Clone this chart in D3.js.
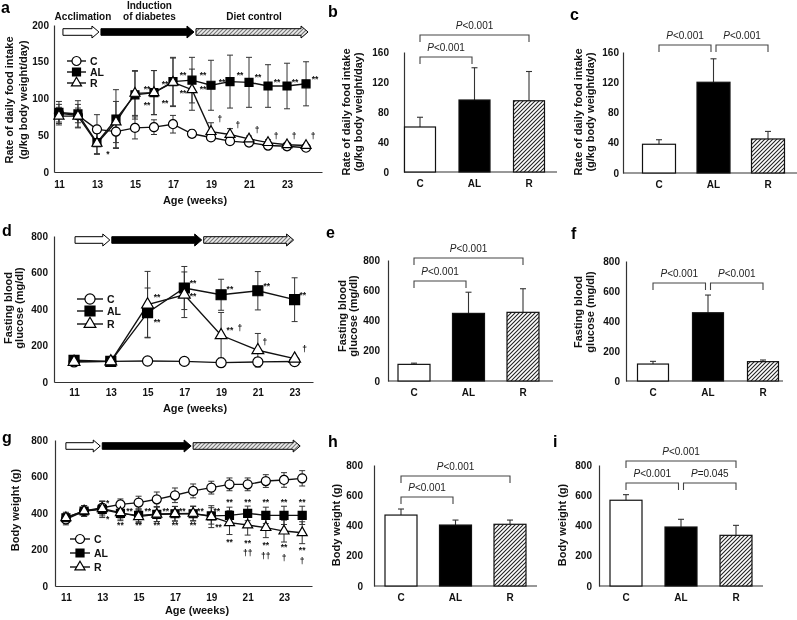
<!DOCTYPE html>
<meta charset="utf-8">
<style>
body { margin: 0; background: #fff; }
svg { font-family: "Liberation Sans", Arial, sans-serif; will-change: transform; }
.axis path { stroke: #333; stroke-width: 1.2px; }
.axis text { font-size: 10px; font-weight: bold; fill: #111; }
.title { font-size: 11px; font-weight: bold; fill: #111; }
.legend { font-size: 10.5px; font-weight: bold; fill: #111; }
.letter { font-size: 16px; font-weight: bold; fill: #000; }
.ann { font-size: 8.5px; font-weight: bold; fill: #111; }
.pval { font-size: 10px; fill: #222; }
.phase { font-size: 10px; font-weight: bold; fill: #111; }
</style>
<svg width="797" height="620"></svg>
<script src="https://d3js.org/d3.v7.min.js"></script>
<script>

var groups = ["C", "AL", "R"];

// phases of the protocol (weeks)
var phaseWeeks = [11, 13, 18, 24];
var phaseWeeksD = [11, 13, 18, 23];
var phaseNames = [["Acclimation"], ["Induction", "of diabetes"], ["Diet control"]];

// a: rate of daily food intake over time
var weeksA   = [11, 12, 13, 14, 15, 16, 17, 18, 19, 20, 21, 22, 23, 24];
var foodC    = [80, 77, 58, 55, 60, 61, 65, 52, 47, 42, 40, 36, 35, 33];
var foodCsd  = [12, 10, 20, 22, 15, 10, 12, 5, 3, 3, 3, 3, 3, 3];
var foodAL   = [81, 79, 40, 72, 105, 108, 123, 125, 118, 123, 122, 117, 117, 120];
var foodALsd = [15, 18, 16, 40, 33, 30, 33, 31, 34, 36, 34, 29, 31, 30];
var foodR    = [76, 76, 39, 68, 107, 108, 122, 112, 55, 51, 45, 40, 37, 36];
var foodRsd  = [12, 16, 14, 28, 30, 30, 33, 28, 12, 8, 4, 4, 3, 3];
var foodMarks = [
  [13.58, 27, "*"],
  [15.63, 116, "**"], [15.63, 94, "**"], [16.58, 122, "**"], [16.58, 97, "**"],
  [17.53, 135, "**"], [17.53, 110, "**"], [18.58, 135, "**"], [18.58, 116, "**"],
  [19.58, 125, "**"], [20.53, 135, "**"], [21.47, 132, "**"], [22.47, 125, "**"],
  [23.42, 125, "**"], [24.47, 129, "**"],
  [19.47, 71, "†"], [20.42, 64, "†"], [21.42, 56, "†"], [22.42, 49, "†"],
  [23.37, 48, "†"], [24.37, 48, "†"]
];

// b, c: mean food intake (induction period / diet control period)
var foodInd   = [60, 96, 95];
var foodIndSd = [13, 43, 39];
var foodDiet   = [38, 120, 45];
var foodDietSd = [6, 31, 10];

// d: fasting blood glucose over time
var weeksD   = [11, 13, 15, 17, 19, 21, 23];
var gluC     = [110, 113, 115, 113, 106, 110, 112];
var gluCsd   = [8, 8, 8, 8, 6, 8, 8];
var gluAL    = [119, 113, 380, 515, 478, 500, 451];
var gluALsd  = [10, 10, 135, 118, 85, 105, 120];
var gluR     = [110, 113, 424, 478, 256, 174, 128];
var gluRsd   = [8, 8, 182, 125, 125, 92, 10];
var gluMarks = [
  [15.51, 477, "**"], [15.51, 340, "**"], [17.47, 553, "**"], [17.47, 482, "**"],
  [19.48, 520, "**"], [19.48, 296, "**"], [20.02, 296, "†"],
  [21.49, 537, "**"], [21.38, 219, "†"], [23.45, 488, "**"], [23.55, 181, "†"]
];

// e, f: fasting blood glucose
var gluInd   = [110, 447, 454];
var gluIndSd = [8, 140, 156];
var gluDiet   = [113, 455, 129];
var gluDietSd = [18, 118, 11];

// g: body weight over time
var weeksG  = [11, 12, 13, 14, 15, 16, 17, 18, 19, 20, 21, 22, 23, 24];
var bwC     = [365, 411, 429, 447, 457, 475, 497, 521, 539, 557, 557, 575, 581, 590];
var bwCsd   = [30, 30, 35, 30, 35, 40, 40, 38, 35, 35, 35, 35, 40, 42];
var bwAL    = [374, 411, 420, 398, 387, 393, 396, 396, 384, 387, 398, 387, 387, 387];
var bwALsd  = [30, 30, 45, 40, 35, 40, 40, 40, 45, 45, 40, 45, 50, 50];
var bwR     = [374, 411, 424, 402, 380, 393, 396, 398, 380, 347, 334, 320, 301, 292];
var bwRsd   = [25, 30, 40, 35, 35, 40, 40, 40, 60, 65, 55, 55, 60, 60];
var bwMarks = [
  [13.3, 466, "*"], [13.3, 378, "*"],
  [14.5, 425, "**"], [15.5, 425, "**"], [16.5, 425, "**"], [17.4, 425, "**"], [18.4, 425, "**"], [19.3, 425, "**"],
  [14, 345, "**"], [15, 345, "**"], [16, 345, "**"], [17, 345, "**"], [18, 345, "**"], [19.4, 334, "**"],
  [20, 474, "**"], [21, 474, "**"], [22, 474, "**"], [23, 474, "**"], [24, 474, "**"],
  [20, 252, "**"], [21, 248, "**"], [22, 234, "**"], [23, 224, "**"], [24, 208, "**"],
  [21, 178, "††"], [22, 160, "††"], [23, 152, "†"], [24, 136, "†"]
];

// h, i: body weight
var bwInd   = [469, 403, 408];
var bwIndSd = [40, 33, 28];
var bwDiet   = [567, 390, 335];
var bwDietSd = [37, 51, 66];

// significance brackets
var pairs2 = [["C", "AL", "P<0.001"], ["C", "R", "P<0.001"]];
var pairsAdj = [["C", "AL", "P<0.001"], ["AL", "R", "P<0.001"]];
var pairs3 = [["C", "AL", "P<0.001"], ["AL", "R", "P=0.045"], ["C", "R", "P<0.001"]];

var svg = d3.select("svg");
svg.append("rect").attr("width", 797).attr("height", 620).attr("fill", "#fff");

var defs = svg.append("defs");
var hatch = defs.append("pattern").attr("id", "hatch")
    .attr("patternUnits", "userSpaceOnUse").attr("width", 4).attr("height", 4);
hatch.append("rect").attr("width", 4).attr("height", 4).attr("fill", "#fff");
hatch.append("path").attr("d", "M-1,1L1,-1M0,4L4,0M3,5L5,3")
    .attr("stroke", "#222").attr("stroke-width", 1.1);

var hatchArrow = defs.append("pattern").attr("id", "hatchArrow")
    .attr("patternUnits", "userSpaceOnUse").attr("width", 4).attr("height", 4);
hatchArrow.append("rect").attr("width", 4).attr("height", 4).attr("fill", "#eee");
hatchArrow.append("path").attr("d", "M-1,1L1,-1M0,4L4,0M3,5L5,3")
    .attr("stroke", "#777").attr("stroke-width", 1.2);

var symType = { C: d3.symbolCircle, AL: d3.symbolSquare, R: d3.symbolTriangle };
var symFill = { C: "#fff", AL: "#000", R: "#fff" };
var barFill = ["#fff", "#000", "url(#hatch)"];
var arrowFill = ["#fff", "#000", "url(#hatchArrow)"];

function marker(g, key, cx, cy, sizes) {
  g.append("path")
      .attr("d", d3.symbol().type(symType[key]).size(sizes[key])())
      .attr("transform", "translate(" + cx + "," + cy + ")")
      .attr("fill", symFill[key])
      .attr("stroke", "#000")
      .attr("stroke-width", 1.2);
}

function arrowPath(x0, x1, cy) {
  var h = 3.3, H = 6, L = 7;
  return "M" + x0 + "," + (cy - h) + "L" + (x1 - L) + "," + (cy - h) + "L" + (x1 - L) + "," + (cy - H) +
      "L" + x1 + "," + cy + "L" + (x1 - L) + "," + (cy + H) + "L" + (x1 - L) + "," + (cy + h) +
      "L" + x0 + "," + (cy + h) + "Z";
}

function vLabel(g, lines, xs, cy) {
  lines.forEach(function(t, i) {
    g.append("text").attr("class", "title")
        .attr("transform", "translate(" + xs[i] + "," + cy + ") rotate(-90)")
        .attr("text-anchor", "middle").attr("dy", "0.35em")
        .text(t);
  });
}

function letter(t, x, y) {
  svg.append("text").attr("class", "letter").attr("x", x).attr("y", y).text(t);
}

function linePanel(p) {
  var g = svg.append("g");
  var x = d3.scaleLinear().domain(p.xDomain).range(p.xRange);
  var y = d3.scaleLinear().domain(p.yDomain).range(p.yRange);

  g.append("g").attr("class", "axis")
      .attr("transform", "translate(0," + p.yRange[0] + ")")
      .call(d3.axisBottom(x).tickValues(p.xTicks).tickSize(0).tickPadding(p.xPad));
  g.append("g").attr("class", "axis")
      .attr("transform", "translate(" + p.xRange[0] + ",0)")
      .call(d3.axisLeft(y).tickValues(p.yTicks).tickSize(0).tickPadding(p.yPad));

  // protocol arrows
  for (var k = 0; k < 3; k++) {
    g.append("path")
        .attr("d", arrowPath(x(p.phases[k]) + p.arrowShift + 1, x(p.phases[k + 1]) + p.arrowShift - 1, p.arrowY))
        .attr("fill", arrowFill[k]).attr("stroke", "#000").attr("stroke-width", 1);
    if (p.phaseLabels) {
      var mid = (x(p.phases[k]) + x(p.phases[k + 1])) / 2 + p.arrowShift + 2;
      phaseNames[k].forEach(function(t, j, arr) {
        g.append("text").attr("class", "phase").attr("text-anchor", "middle")
            .attr("x", mid).attr("y", 19.5 - (arr.length - 1 - j) * 10.5).text(t);
      });
    }
  }

  // error bars
  var eb = g.append("g").attr("stroke", "#333").attr("stroke-width", 1);
  p.series.forEach(function(s) {
    s.values.forEach(function(v, i) {
      var cx = x(p.weeks[i]), lo = y(v - s.sd[i]), hi = y(v + s.sd[i]);
      eb.append("line").attr("x1", cx).attr("x2", cx).attr("y1", lo).attr("y2", hi);
      eb.append("line").attr("x1", cx - 3).attr("x2", cx + 3).attr("y1", hi).attr("y2", hi);
      eb.append("line").attr("x1", cx - 3).attr("x2", cx + 3).attr("y1", lo).attr("y2", lo);
    });
  });

  var line = d3.line()
      .x(function(d, i) { return x(p.weeks[i]); })
      .y(function(d) { return y(d); });

  p.series.forEach(function(s) {
    g.append("path").datum(s.values)
        .attr("fill", "none").attr("stroke", "#111").attr("stroke-width", 1.4)
        .attr("d", line);
  });
  p.series.forEach(function(s) {
    s.values.forEach(function(v, i) {
      marker(g, s.key, x(p.weeks[i]), y(v), p.sizes);
    });
  });

  // significance marks
  p.marks.forEach(function(m) {
    g.append("text").attr("class", "ann")
        .attr("x", x(m[0])).attr("y", y(m[1]))
        .attr("text-anchor", "middle")
        .attr("dy", m[2].indexOf("*") >= 0 ? "0.6em" : "0.3em")
        .text(m[2]);
  });

  // legend
  ["C", "AL", "R"].forEach(function(key, i) {
    var ly = p.legendY[i];
    g.append("line").attr("x1", p.legendX[0]).attr("x2", p.legendX[1])
        .attr("y1", ly).attr("y2", ly).attr("stroke", "#111").attr("stroke-width", 1.4);
    marker(g, key, (p.legendX[0] + p.legendX[1]) / 2, ly, p.sizes);
    g.append("text").attr("class", "legend")
        .attr("x", p.legendX[1] + 4).attr("y", ly).attr("dy", "0.35em").text(key);
  });

  g.append("text").attr("class", "title").attr("text-anchor", "middle")
      .attr("x", p.xTitle[0]).attr("y", p.xTitle[1]).text("Age (weeks)");
  vLabel(g, p.yTitle, p.yTitleX, p.yTitleY);
}

function barPanel(p) {
  var g = svg.append("g");
  var w = p.barW, step = p.step;
  var x = d3.scaleBand().domain(groups)
      .range([p.c0 - w / 2, p.c0 - w / 2 + 2 * step + w])
      .paddingInner(1 - w / step).paddingOuter(0);
  var y = d3.scaleLinear().domain(p.yDomain).range(p.yRange);
  var base = p.yRange[0];

  var xa = g.append("g").attr("class", "axis")
      .attr("transform", "translate(0," + base + ")")
      .call(d3.axisBottom(x).tickSize(0).tickPadding(8));
  xa.select(".domain").attr("d", "M" + p.axisX + ",0H" + p.baseEnd);
  g.append("g").attr("class", "axis")
      .attr("transform", "translate(" + p.axisX + ",0)")
      .call(d3.axisLeft(y).tickValues(p.yTicks).tickSize(0).tickPadding(p.yPad));

  // upper error bars
  groups.forEach(function(k, i) {
    var cx = x(k) + w / 2, top = y(p.values[i] + p.sd[i]);
    g.append("line").attr("x1", cx).attr("x2", cx)
        .attr("y1", y(p.values[i])).attr("y2", top).attr("stroke", "#333").attr("stroke-width", 1.1);
    g.append("line").attr("x1", cx - 3).attr("x2", cx + 3)
        .attr("y1", top).attr("y2", top).attr("stroke", "#333").attr("stroke-width", 1.1);
  });

  g.selectAll(".bar").data(groups).enter().append("rect")
      .attr("x", function(d) { return x(d); })
      .attr("width", x.bandwidth())
      .attr("y", function(d, i) { return y(p.values[i]); })
      .attr("height", function(d, i) { return base - y(p.values[i]); })
      .attr("fill", function(d, i) { return barFill[i]; })
      .attr("stroke", "#111").attr("stroke-width", 1.2);

  p.pairs.forEach(function(pr, k) {
    var yb = p.bracketY[k];
    var xa0 = x(pr[0]) + w / 2 + (pr[0] === "AL" ? 2.5 : 0);
    var xb0 = x(pr[1]) + w / 2 - (pr[1] === "AL" ? 2.5 : 0);
    g.append("path")
        .attr("d", "M" + xa0 + "," + (yb + 7) + "V" + yb + "H" + xb0 + "V" + (yb + 7))
        .attr("fill", "none").attr("stroke", "#444").attr("stroke-width", 1.1);
    var t = g.append("text").attr("class", "pval").attr("text-anchor", "middle")
        .attr("x", (xa0 + xb0) / 2).attr("y", yb - 6);
    t.append("tspan").attr("font-style", "italic").text(pr[2].charAt(0));
    t.append("tspan").text(pr[2].slice(1));
  });

  vLabel(g, p.yTitle, p.yTitleX, p.yTitleY);
}

var foodTitle = ["Rate of daily food intake", "(g/kg body weight/day)"];
var gluTitle = ["Fasting blood", "glucose (mg/dl)"];
var bwTitle = ["Body weight (g)"];
var smallSizes = { C: 64, AL: 64, R: 44 };
var bigSizes = { C: 80, AL: 100, R: 60 };

// a
linePanel({
  xDomain: [10.74, 24.84], xRange: [54, 322], yDomain: [0, 200], yRange: [172, 25],
  xTicks: [11, 13, 15, 17, 19, 21, 23], yTicks: [0, 50, 100, 150, 200], xPad: 9, yPad: 5,
  phases: phaseWeeks, arrowY: 32, arrowShift: 3, phaseLabels: true,
  weeks: weeksA,
  series: [{ key: "C", values: foodC, sd: foodCsd }, { key: "AL", values: foodAL, sd: foodALsd }, { key: "R", values: foodR, sd: foodRsd }],
  marks: foodMarks, sizes: smallSizes,
  legendX: [67, 86], legendY: [61, 72, 83],
  xTitle: [195, 204], yTitle: foodTitle, yTitleX: [9, 23], yTitleY: 100
});

// d
linePanel({
  xDomain: [9.91, 24.0], xRange: [54, 313], yDomain: [0, 800], yRange: [382, 236],
  xTicks: [11, 13, 15, 17, 19, 21, 23], yTicks: [0, 200, 400, 600, 800], xPad: 7, yPad: 6,
  phases: phaseWeeksD, arrowY: 240, arrowShift: 0, phaseLabels: false,
  weeks: weeksD,
  series: [{ key: "C", values: gluC, sd: gluCsd }, { key: "AL", values: gluAL, sd: gluALsd }, { key: "R", values: gluR, sd: gluRsd }],
  marks: gluMarks, sizes: bigSizes,
  legendX: [77, 103], legendY: [299, 311, 324],
  xTitle: [195, 412], yTitle: gluTitle, yTitleX: [8, 19], yTitleY: 308
});

// g
linePanel({
  xDomain: [10.4, 24.54], xRange: [55, 312], yDomain: [0, 800], yRange: [586, 440],
  xTicks: [11, 13, 15, 17, 19, 21, 23], yTicks: [0, 200, 400, 600, 800], xPad: 8, yPad: 7,
  phases: phaseWeeks, arrowY: 446, arrowShift: -1, phaseLabels: false,
  weeks: weeksG,
  series: [{ key: "C", values: bwC, sd: bwCsd }, { key: "AL", values: bwAL, sd: bwALsd }, { key: "R", values: bwR, sd: bwRsd }],
  marks: bwMarks, sizes: smallSizes,
  legendX: [70, 90], legendY: [539, 553, 567],
  xTitle: [197, 614], yTitle: bwTitle, yTitleX: [15], yTitleY: 510
});

// b
barPanel({
  axisX: 404, baseEnd: 557, c0: 420, step: 54.5, barW: 31,
  yDomain: [0, 160], yRange: [172, 52], yTicks: [0, 40, 80, 120, 160], yPad: 15,
  values: foodInd, sd: foodIndSd, pairs: pairs2, bracketY: [57, 35],
  yTitle: foodTitle, yTitleX: [346, 358], yTitleY: 112
});

// c
barPanel({
  axisX: 623, baseEnd: 797, c0: 659, step: 54.5, barW: 33,
  yDomain: [0, 160], yRange: [173, 52], yTicks: [0, 40, 80, 120, 160], yPad: 4,
  values: foodDiet, sd: foodDietSd, pairs: pairsAdj, bracketY: [45, 45],
  yTitle: foodTitle, yTitleX: [578, 590], yTitleY: 112
});

// e
barPanel({
  axisX: 388, baseEnd: 553, c0: 414, step: 54.5, barW: 32,
  yDomain: [0, 800], yRange: [381, 260], yTicks: [0, 200, 400, 600, 800], yPad: 8,
  values: gluInd, sd: gluIndSd, pairs: pairs2, bracketY: [281, 258],
  yTitle: gluTitle, yTitleX: [342, 353], yTitleY: 316
});

// f
barPanel({
  axisX: 626, baseEnd: 783, c0: 653, step: 55, barW: 31,
  yDomain: [0, 800], yRange: [381, 261], yTicks: [0, 200, 400, 600, 800], yPad: 6,
  values: gluDiet, sd: gluDietSd, pairs: pairsAdj, bracketY: [283, 283],
  yTitle: gluTitle, yTitleX: [578, 590], yTitleY: 312
});

// h
barPanel({
  axisX: 374, baseEnd: 537, c0: 401, step: 54.5, barW: 32,
  yDomain: [0, 800], yRange: [586, 465], yTicks: [0, 200, 400, 600, 800], yPad: 11,
  values: bwInd, sd: bwIndSd, pairs: pairs2, bracketY: [497, 476],
  yTitle: bwTitle, yTitleX: [336], yTitleY: 525
});

// i
barPanel({
  axisX: 599, baseEnd: 763, c0: 626, step: 55, barW: 32,
  yDomain: [0, 800], yRange: [586, 465], yTicks: [0, 200, 400, 600, 800], yPad: 7,
  values: bwDiet, sd: bwDietSd, pairs: pairs3, bracketY: [483, 483, 461],
  yTitle: bwTitle, yTitleX: [562], yTitleY: 525
});

letter("a", 1, 13);
letter("b", 328, 17);
letter("c", 570, 20);
letter("d", 2, 236);
letter("e", 326, 238);
letter("f", 571, 239);
letter("g", 2, 443);
letter("h", 328, 447);
letter("i", 553, 447);

</script>
